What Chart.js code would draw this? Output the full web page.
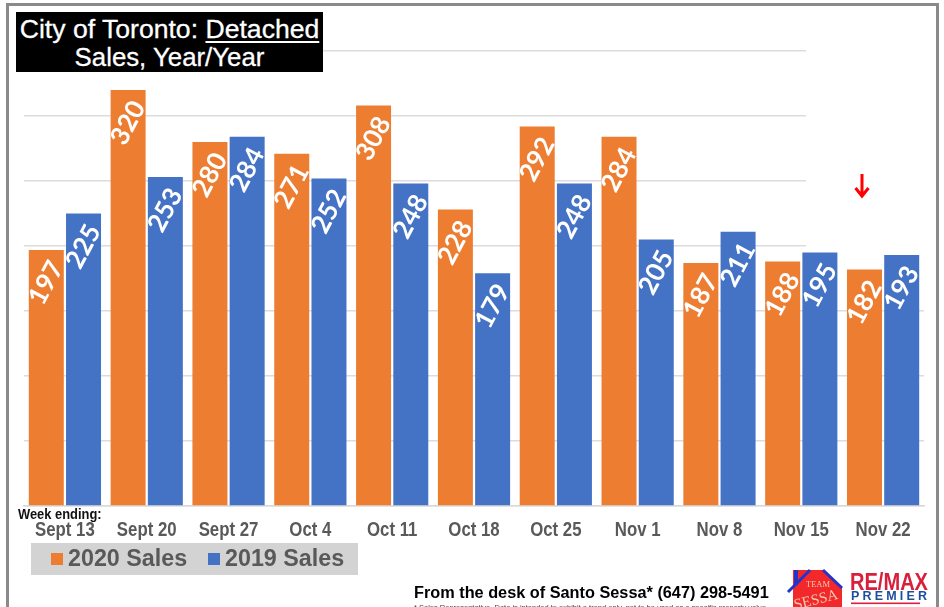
<!DOCTYPE html>
<html>
<head>
<meta charset="utf-8">
<style>
  html, body { margin: 0; padding: 0; background: #fff; overflow: hidden; }
  #wrap { position: relative; width: 944px; height: 607px; font-family: "Liberation Sans", Arial, sans-serif; }
  #salesChart { position: absolute; left: 0; top: 0; }
  #frame { position: absolute; left: 6px; top: 3px; width: 927px; height: 620px; border: 3px solid #8a8a8a; }
  #titleBox { position: absolute; left: 16px; top: 12px; width: 307px; height: 60px; background: #000; color: #fff;
    font-size: 26.6px; line-height: 28px; text-align: center; padding-top: 3px; box-sizing: border-box; -webkit-text-stroke: .3px #fff; white-space: nowrap; }
  #titleBox u { text-decoration-thickness: 2px; text-underline-offset: 3px; }
  #titleBox span { font-size: 25.8px; }
  #weekEnding { position: absolute; left: 18px; top: 505px; font-size: 15px; font-weight: bold; color: #111; transform: scaleX(.86); transform-origin: left; white-space: nowrap; }
  #legendBox { position: absolute; left: 31px; top: 543px; width: 327px; height: 32px; background: #d3d3d3; color: #595959;
    font-size: 23.3px; font-weight: bold; line-height: 31px; }
  #legendBox i { position: absolute; top: 10px; width: 12px; height: 12px; }
  #legendBox span { position: absolute; top: 0; white-space: nowrap; }
  #desk { position: absolute; left: 414px; top: 583px; font-size: 16.3px; font-weight: bold; color: #000; white-space: nowrap; }
  #fine { position: absolute; left: 414px; top: 603px; font-size: 7.5px; color: #444; white-space: nowrap; }
  #teamLogo { position: absolute; left: 786px; top: 568px; }
  #remaxLogo { position: absolute; left: 848px; top: 568px; }
  #arrow { position: absolute; left: 853px; top: 173px; }
</style>
</head>
<body>
<div id="wrap">
  <canvas id="salesChart" width="944" height="607"></canvas>
  <div id="frame"></div>
  <div id="titleBox">City of Toronto: <u>Detached</u><br><span>Sales, Year/Year</span></div>
  <div id="weekEnding">Week ending:</div>
  <div id="legendBox">
    <i style="left:20px;background:#ed7d31"></i><span style="left:37px">2020 Sales</span>
    <i style="left:177px;background:#4472c4"></i><span style="left:194px">2019 Sales</span>
  </div>
  <div id="desk">From the desk of Santo Sessa* (647) 298-5491</div>
  <div id="fine">* Sales Representative. Data is intended to exhibit a trend only, not to be used as a specific property value.</div>
  <svg id="teamLogo" width="60" height="39" viewBox="0 0 60 39">
    <path d="M7 39 V2 H38 L56 20 V39 Z" fill="#f2282a"/>
    <path d="M2 24 L24 2 M37 2 L56 20" fill="none" stroke="#2433c8" stroke-width="3"/>
    <path d="M10 2 V17" stroke="#2433c8" stroke-width="4"/>
    <text x="32" y="19" font-size="8.5" fill="#f4c9b0" text-anchor="middle" font-family="Liberation Serif">TEAM</text>
    <text x="31" y="36" font-size="15" fill="#f4c9b0" text-anchor="middle" font-family="Liberation Serif" transform="rotate(-14 31 36)">SESSA</text>
  </svg>
  <svg id="remaxLogo" width="84" height="39" viewBox="0 0 84 39">
    <text x="2" y="22" font-size="24" font-weight="bold" fill="#d8203c" textLength="78" lengthAdjust="spacingAndGlyphs" font-family="Liberation Sans">RE/MAX</text>
    <text x="3" y="32" font-size="12.5" font-weight="bold" fill="#1c4f9c" textLength="76" font-family="Liberation Sans">PREMIER</text>
    <rect x="3" y="34.5" width="69" height="1.6" fill="#d8203c"/>
  </svg>
  <svg id="arrow" width="18" height="26" viewBox="0 0 18 26">
    <path d="M9 1 V22 M2.5 15 L9 23 L15.5 15" fill="none" stroke="#f00" stroke-width="3"/>
  </svg>
</div>
<script src="https://cdn.jsdelivr.net/npm/chart.js@4"></script>
<script>
// Weekly detached sales
const weekLabels = ["Sept 13", "Sept 20", "Sept 27", "Oct 4", "Oct 11", "Oct 18", "Oct 25", "Nov 1", "Nov 8", "Nov 15", "Nov 22"];
const sales2020 = [197, 320, 280, 271, 308, 228, 292, 284, 187, 188, 182];
const sales2019 = [225, 253, 284, 252, 248, 179, 248, 205, 211, 195, 193];

// Writes the value up the inside of each bar, rotated like the original
const barValueLabels = {
  id: "barValueLabels",
  afterDatasetsDraw(chart) {
    const ctx = chart.ctx;
    chart.data.datasets.forEach((dataset, datasetIndex) => {
      chart.getDatasetMeta(datasetIndex).data.forEach((bar, index) => {
        ctx.save();
        ctx.translate(bar.x, bar.y + 33);
        ctx.rotate(-62 * Math.PI / 180);
        ctx.font = "bold 26px Lato";
        ctx.fillStyle = "#fff";
        ctx.textAlign = "center";
        ctx.textBaseline = "middle";
        ctx.fillText(dataset.data[index], 0, 0);
        ctx.restore();
      });
    });
  },
};

// No narrow font installed, so the week labels get squeezed by hand
const squeezedWeekLabels = {
  id: "squeezedWeekLabels",
  afterDraw(chart) {
    const ctx = chart.ctx;
    const xScale = chart.scales.x;
    weekLabels.forEach((label, index) => {
      ctx.save();
      ctx.translate(xScale.getPixelForTick(index), chart.chartArea.bottom + 24);
      ctx.scale(0.84, 1);
      ctx.font = "bold 20px 'Liberation Sans'";
      ctx.fillStyle = "#595959";
      ctx.textAlign = "center";
      ctx.textBaseline = "middle";
      ctx.fillText(label, 0, 0);
      ctx.restore();
    });
  },
};

// The source has a white patch over the gridlines at top right
const gridPatch = {
  id: "gridPatch",
  beforeDatasetsDraw(chart) {
    chart.ctx.fillStyle = "#fff";
    chart.ctx.fillRect(806, 40, 125, 220);
  },
};

new Chart(document.getElementById("salesChart"), {
  type: "bar",
  data: {
    labels: weekLabels,
    datasets: [
      { label: "2020 Sales", data: sales2020, backgroundColor: "#ed7d31" },
      { label: "2019 Sales", data: sales2019, backgroundColor: "#4472c4" },
    ],
  },
  plugins: [gridPatch, barValueLabels, squeezedWeekLabels],
  options: {
    responsive: false,
    animation: false,
    layout: { padding: { left: 24, right: 20, top: 51, bottom: 93 } },
    plugins: { legend: { display: false }, title: { display: false }, tooltip: { enabled: false } },
    datasets: { bar: { categoryPercentage: 0.91, barPercentage: 0.94 } },
    scales: {
      x: {
        grid: { display: false },
        border: { color: "#d9d9d9", width: 1.5 },
        ticks: { display: false },
      },
      y: {
        min: 0,
        max: 350,
        afterFit(scale) { scale.width = 0; },
        grid: { color: "#dcdcdc", lineWidth: 1.5, drawTicks: false },
        border: { display: false },
        ticks: { display: false, stepSize: 50 },
      },
    },
  },
});
</script>
</body>
</html>
